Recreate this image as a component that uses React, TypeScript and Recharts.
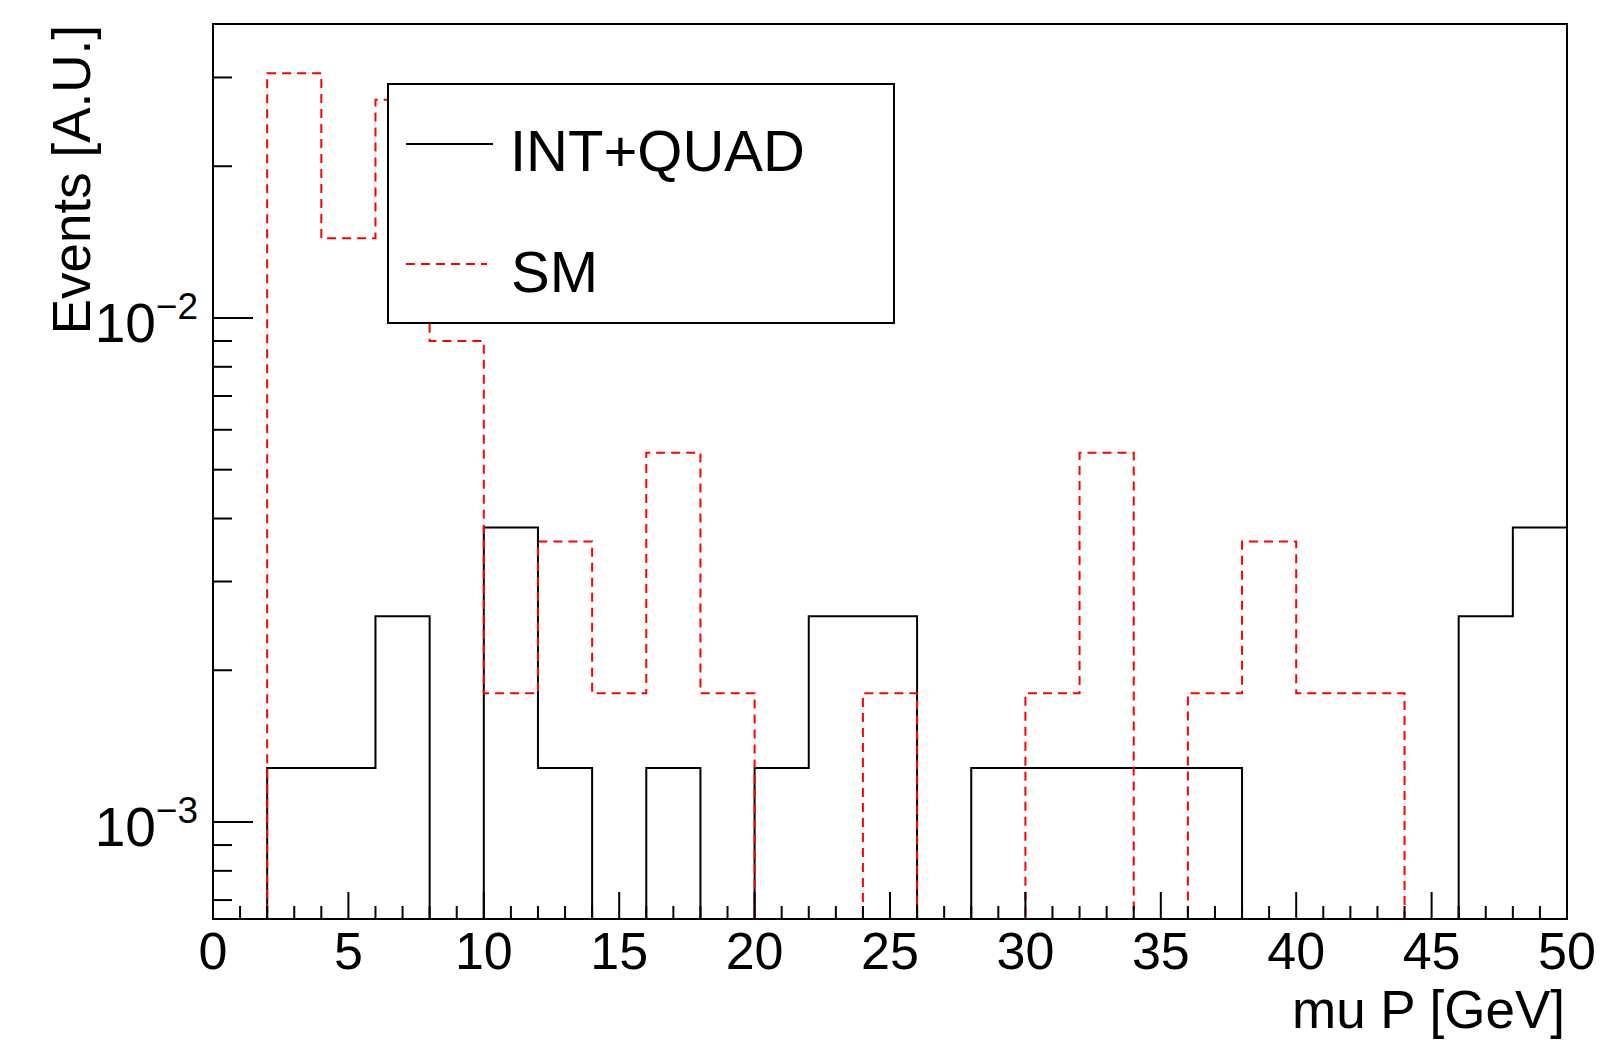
import { ComposedChart, Line, XAxis, YAxis, ReferenceArea, Legend } from 'recharts';

// bin low edges (GeV), plus the upper edge of the last bin
const binEdges = [0, 2, 4, 6, 8, 10, 12, 14, 16, 18, 20, 22, 24, 26, 28, 30, 32, 34, 36, 38, 40, 42, 44, 46, 48, 50];

// bin contents, one per bin (25 bins)
const intQuad = [
  0, 0.00128, 0.00128, 0.00256, 0, 0.00384, 0.00128, 0, 0.00128, 0, 0.00128, 0.00256, 0.00256,
  0, 0.00128, 0.00128, 0.00128, 0.00128, 0.00128, 0, 0, 0, 0, 0.00256, 0.00384,
];
const sm = [
  0, 0.0306, 0.0144, 0.0271, 0.009, 0.0018, 0.0036, 0.0018, 0.0054, 0.0018, 0, 0, 0.0018,
  0, 0, 0.0018, 0.0054, 0, 0.0018, 0.0036, 0.0018, 0.0018, 0, 0, 0,
];

const yMin = 0.000642;
const yMax = 0.0383;
const yTicks = [0.0007, 0.0008, 0.0009, 0.001, 0.002, 0.003, 0.004, 0.005, 0.006, 0.007, 0.008, 0.009, 0.01, 0.02, 0.03];
const yMajorLabels: Record<string, string> = { '0.001': '\u22123', '0.01': '\u22122' };
const xTicks = [0, 1, 2, 3, 4, 5, 6, 7, 8, 9, 10, 11, 12, 13, 14, 15, 16, 17, 18, 19, 20, 21, 22, 23, 24, 25, 26, 27, 28, 29, 30, 31, 32, 33, 34, 35, 36, 37, 38, 39, 40, 41, 42, 43, 44, 45, 46, 47, 48, 49, 50];

const FONT = '"Liberation Sans", Arial, Helvetica, sans-serif';
const RED = '#ff0000';
const DASH = '9 6';

// step table: each edge carries the content of the bin that starts there
const data = binEdges.map((x, i) => {
  const k = Math.min(i, intQuad.length - 1);
  return {
    x,
    intQuad: intQuad[k] > 0 ? intQuad[k] : yMin,
    sm: sm[k] > 0 ? sm[k] : yMin,
  };
});

function XTick(props: any) {
  const { x, y, payload } = props;
  const v = payload.value;
  const major = v % 5 === 0;
  return (
    <g>
      <line x1={x} y1={y} x2={x} y2={y - (major ? 27 : 13)} stroke="#000" strokeWidth={2} />
      {major && (
        <text x={x} y={y + 50} textAnchor="middle" fontSize={52} fontFamily={FONT} fill="#000">
          {v}
        </text>
      )}
    </g>
  );
}

function YTick(props: any) {
  const { x, y, payload } = props;
  const sup = yMajorLabels[String(payload.value)];
  const major = sup !== undefined;
  return (
    <g>
      <line x1={x} y1={y} x2={x + (major ? 40 : 19)} y2={y} stroke="#000" strokeWidth={2} />
      {major && (
        <text x={x - 15} y={y + 24} textAnchor="end" fontFamily={FONT} fill="#000">
          <tspan fontSize={55}>10</tspan>
          <tspan fontSize={37} dy={-23}>{sup}</tspan>
        </text>
      )}
    </g>
  );
}

function LegendBox() {
  return (
    <svg width={508} height={241} style={{ display: 'block' }}>
      <rect x={1} y={1} width={506} height={239} fill="#fff" stroke="#000" strokeWidth={2} />
      <line x1={19} y1={61} x2={106} y2={61} stroke="#000" strokeWidth={2} />
      <text x={123} y={88} fontSize={58} fontFamily={FONT} fill="#000">INT+QUAD</text>
      <line x1={19} y1={181} x2={100} y2={181} stroke={RED} strokeWidth={2} strokeDasharray={DASH} />
      <text x={124} y={209} fontSize={58} fontFamily={FONT} fill="#000">SM</text>
    </svg>
  );
}

export default function App() {
  return (
    <div style={{ position: 'absolute', left: 0, top: 0, width: 1610, height: 1043, background: '#fff' }}>
      <ComposedChart width={1610} height={1043} data={data} margin={{ top: 24, right: 43, bottom: 0, left: 0 }}>
        <XAxis
          dataKey="x"
          type="number"
          domain={[0, 50]}
          ticks={xTicks}
          interval={0}
          height={124}
          tickSize={0}
          tickMargin={0}
          tickLine={false}
          axisLine={{ stroke: '#000', strokeWidth: 2 }}
          tick={<XTick />}
          label={{
            content: (p: any) => (
              <text
                x={p.viewBox.x + p.viewBox.width - 2}
                y={p.viewBox.y + 109}
                textAnchor="end"
                fontSize={53}
                fontFamily={FONT}
                fill="#000"
              >
                mu P [GeV]
              </text>
            ),
          }}
        />
        <YAxis
          type="number"
          scale="log"
          domain={[yMin, yMax]}
          ticks={yTicks}
          interval={0}
          width={213}
          tickSize={0}
          tickMargin={0}
          tickLine={false}
          axisLine={{ stroke: '#000', strokeWidth: 2 }}
          tick={<YTick />}
          label={{
            content: (p: any) => (
              <text
                x={90}
                y={p.viewBox.y + 1}
                transform={`rotate(-90, 90, ${p.viewBox.y + 1})`}
                textAnchor="end"
                fontSize={53}
                fontFamily={FONT}
                fill="#000"
              >
                Events [A.U.]
              </text>
            ),
          }}
        />
        <ReferenceArea x1={0} x2={50} y1={yMin} y2={yMax} fill="none" stroke="#000" strokeWidth={2} strokeOpacity={1} />
        <Line
          dataKey="intQuad"
          type="stepAfter"
          stroke="#000"
          strokeWidth={2}
          dot={false}
          activeDot={false}
          isAnimationActive={false}
        />
        <Line
          dataKey="sm"
          type="stepAfter"
          stroke={RED}
          strokeWidth={2}
          strokeDasharray={DASH}
          dot={false}
          activeDot={false}
          isAnimationActive={false}
        />
        <Legend
          layout="vertical"
          align="center"
          verticalAlign="middle"
          content={() => <LegendBox />}
          wrapperStyle={{ position: 'absolute', left: 387, top: 83, width: 508, height: 241, margin: 0, padding: 0 }}
        />
      </ComposedChart>
    </div>
  );
}
